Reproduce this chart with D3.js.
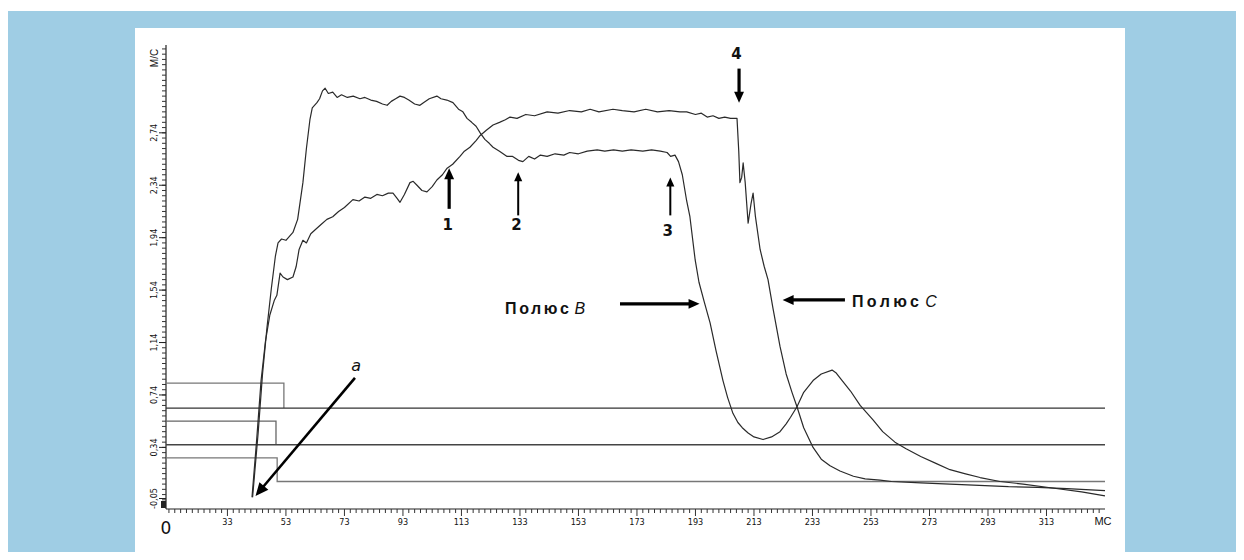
<!DOCTYPE html>
<html>
<head>
<meta charset="utf-8">
<script src="https://cdn.jsdelivr.net/npm/d3@7"></script>
<style>
  body { margin: 0; background: #fff; }
  svg text { fill: #111; }
</style>
</head>
<body>
<div class="canvas"></div>
<script>
// --- data (ms, m/s) ---
const xMajorTicks = [33, 53, 73, 93, 113, 133, 153, 173, 193, 213, 233, 253, 273, 293, 313];
const yTickValues = [-0.05, 0.34, 0.74, 1.14, 1.54, 1.94, 2.34, 2.74];
const yTickLabels = ['-0,05', '0,34', '0,74', '1,14', '1,54', '1,94', '2,34', '2,74'];

const poleB = [
  [41.6, -0.04], [43.5, 0.45], [45, 0.9], [46.5, 1.25], [48, 1.55], [49.4, 1.8], [50.3, 1.9],
  [51.5, 1.93], [53, 1.92], [55.4, 1.98], [57, 2.08], [58.8, 2.36], [60, 2.62], [61.2, 2.84],
  [62, 2.93], [63.6, 2.97], [64.5, 3.0], [65.5, 3.06], [66.4, 3.08], [67.5, 3.04], [69, 3.05],
  [70.5, 3.01], [72, 3.03], [74, 3.01], [76, 3.02], [78.3, 3.0], [80, 3.01], [82, 2.99],
  [84, 2.98], [86, 2.96], [87.6, 2.95], [89, 2.98], [90.5, 3.0], [92, 3.02], [93.5, 3.01],
  [95, 2.99], [97, 2.96], [98.8, 2.95], [100, 2.97], [102, 3.0], [104.6, 3.02], [106, 3.0],
  [108, 2.99], [110.1, 2.97], [112, 2.92], [113.5, 2.9], [114.9, 2.85], [116.5, 2.82],
  [118, 2.79], [119.4, 2.74], [121, 2.69], [122.5, 2.66], [123.8, 2.63], [126, 2.6],
  [128.6, 2.56], [130.5, 2.56], [132.5, 2.53], [134, 2.52], [136, 2.56], [138, 2.54],
  [140, 2.57], [142.3, 2.56], [145, 2.58], [148, 2.57], [150, 2.59], [153, 2.58], [156, 2.6],
  [159.4, 2.61], [162, 2.6], [165, 2.61], [168, 2.6], [171, 2.61], [175, 2.6], [178, 2.61],
  [181, 2.6], [183.3, 2.59], [184.5, 2.56], [186, 2.57], [187.2, 2.52], [188.5, 2.42],
  [190, 2.22], [191.1, 2.1], [192.9, 1.77], [194.2, 1.6], [196, 1.45], [198, 1.29],
  [200, 1.08], [202.4, 0.85], [204, 0.72], [205.8, 0.6], [207.5, 0.53], [209, 0.49],
  [211, 0.45], [213, 0.42], [216.1, 0.4], [219, 0.42], [221.9, 0.46], [224, 0.52],
  [225.5, 0.57], [227.7, 0.65], [230, 0.76], [233.2, 0.85], [236, 0.9], [239.7, 0.93],
  [241, 0.91], [242.4, 0.87], [246, 0.77], [249.3, 0.66], [253.7, 0.55], [257, 0.46],
  [261.2, 0.38], [265, 0.33], [270, 0.27], [275, 0.22], [280, 0.17], [285, 0.14],
  [290.3, 0.11], [297.1, 0.08], [305, 0.06], [315, 0.03], [325, 0.0], [333, -0.03]
];

const poleC = [
  [41.4, -0.04], [43, 0.4], [44.5, 0.85], [46, 1.15], [47.5, 1.35], [49, 1.46], [49.9, 1.5],
  [51, 1.67], [52, 1.64], [53.5, 1.62], [55.4, 1.64], [56.5, 1.72], [57.5, 1.85], [58.8, 1.92],
  [60, 1.9], [61.5, 1.97], [63, 2.0], [65, 2.04], [67, 2.08], [69, 2.1], [71, 2.14], [73, 2.17],
  [75.9, 2.23], [78, 2.22], [80, 2.25], [82, 2.24], [84.1, 2.27], [86, 2.26], [88, 2.28],
  [89.6, 2.28], [91, 2.24], [92, 2.21], [93.5, 2.27], [95.4, 2.36], [96.5, 2.37], [97.8, 2.34],
  [99.5, 2.3], [101.2, 2.29], [103, 2.33], [104.6, 2.38], [106.5, 2.42], [108.1, 2.47],
  [110, 2.5], [112.5, 2.56], [114, 2.6], [115.9, 2.63], [118, 2.68], [119.4, 2.72],
  [121.5, 2.76], [123.8, 2.8], [126, 2.82], [128, 2.84], [129.6, 2.86], [132, 2.85],
  [135, 2.88], [138, 2.87], [142.3, 2.9], [146, 2.89], [150, 2.91], [154, 2.9], [157, 2.92],
  [160, 2.9], [164.8, 2.92], [168, 2.91], [172, 2.9], [176, 2.92], [180, 2.9], [184, 2.91],
  [187.7, 2.9], [190, 2.9], [193, 2.88], [195, 2.89], [197, 2.86], [199, 2.87], [201, 2.85],
  [203, 2.86], [205, 2.85], [207.2, 2.85], [207.8, 2.6], [208.2, 2.36], [208.8, 2.4],
  [209.3, 2.51], [210, 2.36], [211, 2.05], [212, 2.2], [212.7, 2.28], [213.5, 2.1],
  [215.1, 1.85], [216.5, 1.72], [217.8, 1.62], [219.5, 1.4], [221.9, 1.11], [224, 0.9],
  [226, 0.76], [227.7, 0.65], [230, 0.49], [233.2, 0.34], [236, 0.25], [239, 0.2],
  [242.4, 0.16], [247, 0.12], [251, 0.1], [256.1, 0.09], [260, 0.08], [270, 0.07],
  [280, 0.06], [290, 0.05], [300, 0.04], [310, 0.035], [320, 0.025], [333, 0.01]
];

const stepLine1 = [[12, 0.83], [52.3, 0.83], [52.3, 0.64]];
const refLine1 = [[12, 0.64], [333, 0.64]];
const stepLine2 = [[12, 0.54], [49.6, 0.54], [49.6, 0.36]];
const refLine2 = [[12, 0.36], [333, 0.36]];
const stepLine3 = [[12, 0.26], [50, 0.26], [50, 0.08], [333, 0.08]];

// --- page ---
const svg = d3.select('.canvas')
    .append('svg')
    .attr('width', 1244)
    .attr('height', 560);

svg.append('rect').attr('x', 8).attr('y', 11).attr('width', 1228).attr('height', 541).attr('fill', '#9fcde4');
svg.append('rect').attr('x', 135).attr('y', 28).attr('width', 990).attr('height', 524).attr('fill', '#fff');

const x = d3.scaleLinear().domain([12, 333]).range([166, 1105]);
const y = d3.scaleLinear().domain([-0.13, 3.41]).range([509, 45]);

const tickFont = "'Liberation Sans Narrow', 'DejaVu Sans Condensed', sans-serif";

// x axis
const xMinor = d3.range(13, 332, 2);
const xAxis = svg.append('g').attr('transform', 'translate(0,509)');
xAxis.append('line').attr('x1', 166).attr('x2', 1105).attr('stroke', '#222').attr('stroke-width', 1.2);
xAxis.selectAll('line.minor')
    .data(xMinor)
    .enter().append('line')
      .attr('class', 'minor')
      .attr('x1', d => x(d)).attr('x2', d => x(d))
      .attr('y1', 0)
      .attr('y2', d => xMajorTicks.includes(d) ? 7 : 4)
      .attr('stroke', '#333');
xAxis.selectAll('text')
    .data(xMajorTicks)
    .enter().append('text')
      .attr('x', d => x(d))
      .attr('y', 16)
      .attr('text-anchor', 'middle')
      .attr('font-family', tickFont)
      .attr('font-size', 9)
      .text(d => d);
xAxis.append('text').attr('x', 1103).attr('y', 16).attr('text-anchor', 'middle')
    .attr('font-family', 'Liberation Sans, sans-serif').attr('font-size', 11).text('МС');
xAxis.append('text').attr('x', 166).attr('y', 25).attr('text-anchor', 'middle')
    .attr('font-family', 'DejaVu Sans, sans-serif').attr('font-size', 17).text('0');

// y axis
const yMinor = d3.range(-0.1, 3.4, 0.04);
const yAxis = svg.append('g').attr('transform', 'translate(166,0)');
yAxis.append('line').attr('y1', 45).attr('y2', 509).attr('stroke', '#222').attr('stroke-width', 1.2);
yAxis.selectAll('line.minor')
    .data(yMinor)
    .enter().append('line')
      .attr('class', 'minor')
      .attr('y1', d => y(d)).attr('y2', d => y(d))
      .attr('x1', 0).attr('x2', -4)
      .attr('stroke', '#333');
yAxis.selectAll('line.major')
    .data(yTickValues)
    .enter().append('line')
      .attr('class', 'major')
      .attr('y1', d => y(d)).attr('y2', d => y(d))
      .attr('x1', 0).attr('x2', -7)
      .attr('stroke', '#222');
yAxis.append('rect').attr('x', -5).attr('y', 501).attr('width', 5).attr('height', 7).attr('fill', '#222');
yAxis.selectAll('text')
    .data(yTickValues)
    .enter().append('text')
      .attr('transform', (d, i) => `translate(-9,${y(d)}) rotate(-90)`)
      .attr('text-anchor', 'middle')
      .attr('font-family', tickFont)
      .attr('font-size', 9)
      .text((d, i) => yTickLabels[i]);
yAxis.append('text').attr('transform', 'translate(-8,58) rotate(-90)')
    .attr('text-anchor', 'middle').attr('font-family', 'Liberation Sans, sans-serif')
    .attr('font-size', 10).text('М/С');

// reference lines
const line = d3.line().x(d => x(d[0])).y(d => y(d[1]));
const refs = [
  { pts: stepLine1, c: '#777' }, { pts: refLine1, c: '#333' },
  { pts: stepLine2, c: '#666' }, { pts: refLine2, c: '#444' },
  { pts: stepLine3, c: '#777' }
];
svg.selectAll('path.ref')
    .data(refs)
    .enter().append('path')
      .attr('class', 'ref')
      .attr('d', d => line(d.pts))
      .attr('fill', 'none')
      .attr('stroke', d => d.c)
      .attr('stroke-width', 1.3);

// velocity curves
svg.selectAll('path.curve')
    .data([poleB, poleC])
    .enter().append('path')
      .attr('class', 'curve')
      .attr('d', line)
      .attr('fill', 'none')
      .attr('stroke', '#2a2a2a')
      .attr('stroke-width', 1.2)
      .attr('stroke-linejoin', 'round');

// annotations
const arrows = [
  { from: [108.8, 2.16], to: [108.8, 2.47], w: 3.2, head: 11 },
  { from: [132.4, 2.11], to: [132.4, 2.44], w: 2, head: 9 },
  { from: [184.4, 2.11], to: [184.4, 2.4], w: 2, head: 9 },
  { from: [207.9, 3.23], to: [207.9, 2.97], w: 3.2, head: 11 },
  { from: [167.2, 1.435], to: [194.4, 1.435], w: 3.2, head: 11 },
  { from: [244.1, 1.465], to: [222.8, 1.465], w: 3.2, head: 11 },
  { from: [76.6, 0.87], to: [42.6, -0.03], w: 2.6, head: 13 }
];

const drawArrow = (g, a) => {
  const x1 = x(a.from[0]), y1 = y(a.from[1]);
  const x2 = x(a.to[0]), y2 = y(a.to[1]);
  const len = Math.hypot(x2 - x1, y2 - y1);
  const ux = (x2 - x1) / len, uy = (y2 - y1) / len;
  const bx = x2 - ux * a.head, by = y2 - uy * a.head;
  const hw = a.head * 0.45;
  g.append('line').attr('x1', x1).attr('y1', y1).attr('x2', bx + ux).attr('y2', by + uy)
      .attr('stroke', '#000').attr('stroke-width', a.w);
  g.append('path')
      .attr('d', `M${x2},${y2}L${bx - uy * hw},${by + ux * hw}L${bx + uy * hw},${by - ux * hw}Z`)
      .attr('fill', '#000');
};
const notes = svg.append('g');
arrows.forEach(a => drawArrow(notes, a));

const numLabels = [
  { t: '1', at: [108.3, 2.0] }, { t: '2', at: [131.8, 2.0] },
  { t: '3', at: [183.5, 1.95] }, { t: '4', at: [207, 3.3] }
];
notes.selectAll('text.num')
    .data(numLabels)
    .enter().append('text')
      .attr('class', 'num')
      .attr('x', d => x(d.at[0])).attr('y', d => y(d.at[1]))
      .attr('text-anchor', 'middle')
      .attr('font-family', 'DejaVu Sans, sans-serif')
      .attr('font-weight', 'bold')
      .attr('font-size', 15)
      .text(d => d.t);

notes.append('text').attr('x', x(75.3)).attr('y', y(0.92))
    .attr('font-family', 'DejaVu Sans, sans-serif').attr('font-style', 'italic')
    .attr('font-size', 16).text('a');

const poleLabels = [
  { t: 'Полюс', it: 'B', at: [127.9, 1.36], sp: 2.6 },
  { t: 'Полюс', it: 'C', at: [246.5, 1.41], sp: 3.4 }
];
poleLabels.forEach(p => {
  const t = notes.append('text')
      .attr('x', x(p.at[0])).attr('y', y(p.at[1]))
      .attr('font-family', 'Liberation Sans, Arial, sans-serif')
      .attr('font-size', 16);
  t.append('tspan').attr('font-weight', 'bold').attr('letter-spacing', p.sp).text(p.t);
  t.append('tspan').attr('dx', 3).attr('font-style', 'italic').text(p.it);
});
</script>
</body>
</html>
